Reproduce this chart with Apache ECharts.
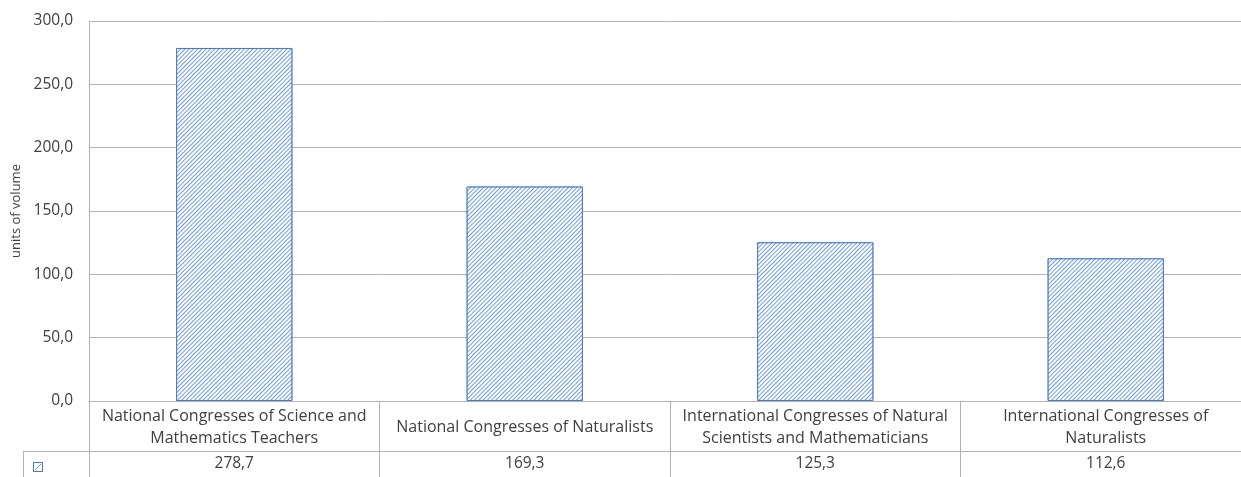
<!DOCTYPE html>
<html><head><meta charset="utf-8">
<script src="https://cdn.jsdelivr.net/npm/echarts@6/dist/echarts.min.js"></script>
<style>html,body{margin:0;padding:0;background:#fff}#c{width:1241px;height:477px}</style>
</head><body><div id="c"></div>
<script>
const categories = [
  "National Congresses of Science and\nMathematics Teachers",
  "National Congresses of Naturalists",
  "International Congresses of Natural\nScientists and Mathematicians",
  "International Congresses of\nNaturalists"
];
const values = [278.7, 169.3, 125.3, 112.6];
const yTicks = {min: 0, max: 300, interval: 50};
const yTitle = "units of volume";

const FONT = '"Open Sans"';
const TXT = '#404040';
const GRID = '#b3b3b3';
const BLUE = '#4a78c2';
const fmt = v => v.toFixed(1).replace('.', ',');

const decal = {
  symbol: 'rect', symbolSize: 1, color: '#6f9ae0', backgroundColor: '#ffffff',
  dashArrayX: [1, 0], dashArrayY: [1, 2], rotation: -Math.PI / 4
};

const chart = echarts.init(document.getElementById('c'), null, {renderer: 'canvas'});
chart.setOption({
  animation: false,
  grid: {left: 89, right: -10, top: 21, bottom: 76, containLabel: false, outerBoundsMode: 'none'},
  xAxis: [{
    type: 'category', data: categories, position: 'bottom',
    axisLine: {show: true, lineStyle: {color: GRID, width: 1}},
    axisTick: {show: true, length: 76, interval: 0, alignWithLabel: false, lineStyle: {color: GRID}},
    axisLabel: {interval: 0, margin: 26, verticalAlign: 'middle', color: TXT, fontFamily: FONT, fontSize: 16, lineHeight: 22, align: 'center'}
  }, {
    type: 'category', data: categories, position: 'bottom', offset: 50,
    axisLine: {show: true, lineStyle: {color: GRID, width: 1}},
    axisTick: {show: false},
    axisLabel: {interval: 0, margin: 13, verticalAlign: 'middle', color: TXT, fontFamily: FONT, fontSize: 15.5,
      formatter: (v, i) => fmt(values[i])}
  }],
  yAxis: {
    type: 'value', min: yTicks.min, max: yTicks.max, interval: yTicks.interval,
    name: yTitle, nameLocation: 'middle', nameRotate: 90, nameGap: 66,
    nameTextStyle: {color: TXT, fontFamily: FONT, fontSize: 13},
    axisLine: {show: true, lineStyle: {color: GRID}},
    axisTick: {show: false},
    splitLine: {show: true, lineStyle: {color: GRID}},
    axisLabel: {margin: 16, color: TXT, fontFamily: FONT, fontSize: 15.5, formatter: v => fmt(v)}
  },
  series: [{
    type: 'bar', data: values, barWidth: '40%',
    itemStyle: {color: '#ffffff', decal: decal, borderColor: BLUE, borderWidth: 1}
  }]
});

const y451 = 451;
chart.setOption({
  graphic: [
    {type: 'line', shape: {x1: 23, y1: y451 + 0.5, x2: 89, y2: y451 + 0.5}, style: {stroke: GRID, lineWidth: 1}, silent: true},
    {type: 'line', shape: {x1: 23.5, y1: y451, x2: 23.5, y2: 477}, style: {stroke: GRID, lineWidth: 1}, silent: true},
    {type: 'rect', shape: {x: 33.5, y: 462.5, width: 9, height: 9}, style: {fill: '#ffffff', stroke: BLUE, lineWidth: 1, decal: decal}, silent: true},
    {type: 'line', shape: {x1: 35, y1: 470, x2: 41, y2: 464}, style: {stroke: '#6f9ae0', lineWidth: 1}, silent: true}
  ]
});
</script></body></html>
